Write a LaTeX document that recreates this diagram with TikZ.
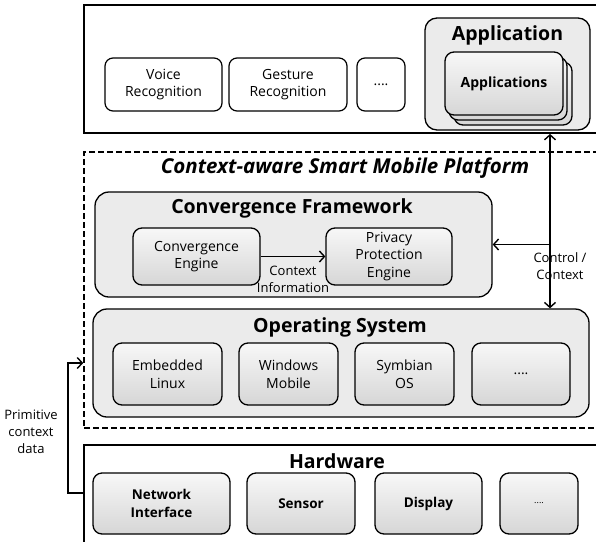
\documentclass[tikz,border=0pt]{standalone}
\usepackage{fontspec}
\setmainfont{Open Sans}
\usetikzlibrary{arrows.meta,calc}

\tikzset{
  every node/.style={font=\fontsize{14}{17.5}\selectfont, inner sep=0pt},
  platform/.style={draw, line width=1.6pt, dash pattern=on 6pt off 3pt},
  container/.style={draw, rounded corners=14pt, line width=1.3pt, fill=gray!16},
  whitebox/.style={draw, rounded corners=8pt, line width=1.2pt, fill=white, align=center},
  graybox/.style={draw, rounded corners=9pt, line width=1.3pt, top color=gray!6,
    bottom color=gray!32, align=center},
  title/.style={font=\fontsize{19.5}{23}\selectfont\bfseries},
  lbl/.style={font=\fontsize{13}{17}\selectfont, align=center},
  hwtext/.style={font=\fontsize{13.5}{17.5}\selectfont\bfseries},
  arr/.style={line width=1.6pt, -{Straight Barb[length=5pt,width=11pt,line width=1.4pt]}},
  biarr/.style={line width=1.6pt, {Straight Barb[length=5pt,width=11pt,line width=1.4pt]}-{Straight Barb[length=5pt,width=11pt,line width=1.4pt]}},
}

\begin{document}
\begin{tikzpicture}[x=1pt, y=-1pt]
  \useasboundingbox[fill=white] (0,0) rectangle (596,541);

  % ---- application layer ----
  \node[draw, line width=1.8pt, minimum width=520pt, minimum height=128pt] (top) at (344,69) {};
  \node[whitebox, minimum width=117pt, minimum height=53pt] (voice) at (163.5,84.5) {Voice\\Recognition};
  \node[whitebox, minimum width=118pt, minimum height=53pt] (gesture) at (288,84.5) {Gesture\\Recognition};
  \node[whitebox, minimum width=48pt, minimum height=53pt] (moreapp) at (381,84.5) {....};
  \node[container, rounded corners=12pt, minimum width=165pt, minimum height=112pt] (appbox) at (507.5,74) {};
  \node[title] (apptitle) at (507.5,35) {Application};
  \node[graybox, minimum width=118pt, minimum height=63pt] (appc) at (513,93.5) {};
  \node[graybox, minimum width=118pt, minimum height=63pt] (appb) at (508,88.5) {};
  \node[graybox, minimum width=118pt, minimum height=63pt, font=\fontsize{14}{17}\selectfont\bfseries] (appa) at (504,83.5) {Applications};

  % ---- platform ----
  \node[platform, minimum width=520pt, minimum height=276pt] (plat) at (344,290) {};
  \node[title, font=\fontsize{20.5}{24}\selectfont\bfseries\itshape] (plattitle) at (345,168) {Context-aware Smart Mobile Platform};

  \node[container, minimum width=397pt, minimum height=105pt] (cf) at (293.5,244.5) {};
  \node[title] (cftitle) at (292,208) {Convergence Framework};
  \node[graybox, minimum width=127pt, minimum height=57pt] (ce) at (196.5,256.5) {Convergence\\Engine};
  \node[graybox, minimum width=126pt, minimum height=57pt] (ppe) at (389,256.5) {Privacy\\Protection\\Engine};
  \draw[arr] (ce.east) -- (ppe.west);
  \node[lbl] (ctxinfo) at (293,279) {Context\\Information};

  \node[container, minimum width=496pt, minimum height=108pt] (os) at (341,363) {};
  \node[title] (ostitle) at (340,327) {Operating System};
  \node[graybox, minimum width=109pt, minimum height=62pt] (linux) at (167.5,374) {Embedded\\Linux};
  \node[graybox, minimum width=99pt, minimum height=62pt] (winmob) at (288.5,374) {Windows\\Mobile};
  \node[graybox, minimum width=99pt, minimum height=62pt] (symbian) at (404.5,374) {Symbian\\OS};
  \node[graybox, minimum width=98pt, minimum height=62pt] (moreos) at (521,374) {....};

  % ---- hardware layer ----
  \node[draw, line width=1.8pt, minimum width=520pt, minimum height=115pt] (hw) at (344,502.5) {};
  \node[title] (hwtitle) at (337,461) {Hardware};
  \node[graybox, hwtext, minimum width=137pt, minimum height=61pt] (netif) at (161.5,503.5) {Network\\Interface};
  \node[graybox, hwtext, minimum width=108pt, minimum height=61pt] (sensor) at (301,503.5) {Sensor};
  \node[graybox, hwtext, minimum width=107pt, minimum height=61pt] (display) at (428.5,503.5) {Display};
  \node[graybox, minimum width=78pt, minimum height=61pt, font=\fontsize{9}{10}\selectfont] (morehw) at (539,503.5) {....};

  % ---- control / context exchange ----
  \coordinate (ctl) at (550,220);
  \draw[biarr] (top.south -| ctl) -- (os.north -| ctl);
  \draw[arr] (cf.east -| ctl) -- (cf.east);
  \node[lbl] (ctllbl) at (560,266) {Control /\\Context};

  % ---- primitive context data from hardware ----
  \coordinate (hwtap) at (84,493);
  \draw[arr] (hwtap) -- ++(-16,0) |- (plat.west |- os.center);
  \node[lbl] (primlbl) at (31,432) {Primitive\\context\\data};
\end{tikzpicture}
\end{document}
